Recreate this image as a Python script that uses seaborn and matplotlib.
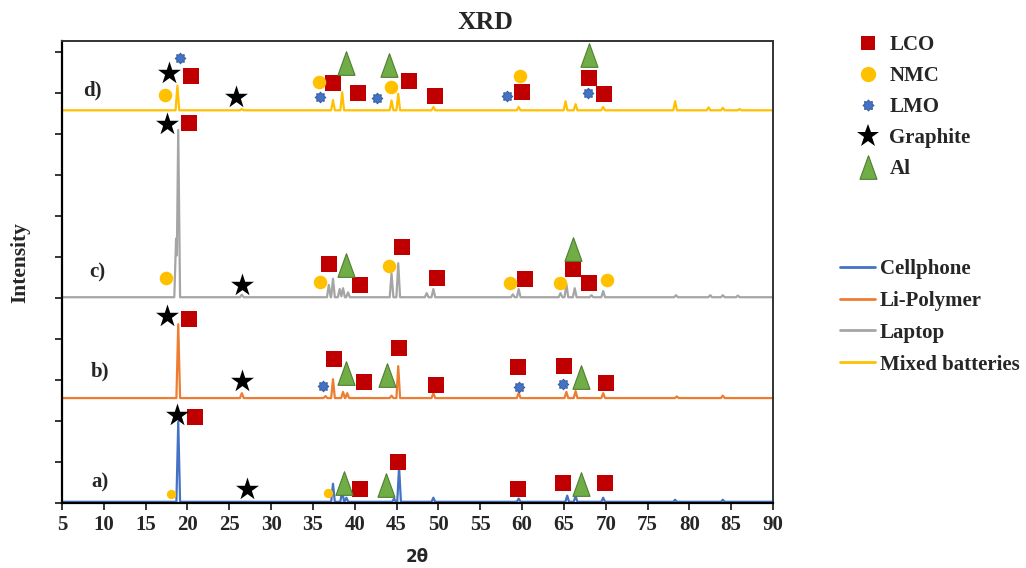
import numpy as np
import pandas as pd
import matplotlib.pyplot as plt
import seaborn as sns
from matplotlib.path import Path
from matplotlib.lines import Line2D

# ---- data ---------------------------------------------------------------
samples = ["Cellphone", "Li-Polymer", "Laptop", "Mixed batteries"]
sample_tags = ["a)", "b)", "c)", "d)"]
offsets = [0.03, 2.56, 5.02, 9.58]

# peak positions (2theta) and heights above each baseline
cell_pos = [18.9, 37.4, 38.5, 39.0, 44.7, 45.3, 49.4, 59.6, 65.4, 66.4, 69.7, 78.3, 84.0]
cell_h = [1.95, 0.44, 0.28, 0.10, 0.08, 0.85, 0.10, 0.08, 0.15, 0.14, 0.10, 0.05, 0.05]

lipo_pos = [18.9, 26.5, 36.5, 37.4, 38.6, 39.1, 44.4, 45.2, 49.4, 59.6, 65.3, 66.4, 69.7, 78.5, 84.0]
lipo_h = [1.80, 0.12, 0.05, 0.46, 0.15, 0.12, 0.06, 0.78, 0.12, 0.13, 0.15, 0.17, 0.12, 0.04, 0.06]

lap_pos = [18.65, 18.9, 26.5, 36.9, 37.4, 38.2, 38.6, 39.2, 44.4, 45.2, 48.6, 49.4, 58.9, 59.6,
           64.6, 65.3, 66.3, 68.3, 69.7, 78.4, 82.5, 84.0, 85.8]
lap_h = [1.50, 4.08, 0.06, 0.30, 0.45, 0.20, 0.22, 0.12, 0.58, 0.83, 0.10, 0.20, 0.07, 0.20,
         0.10, 0.32, 0.22, 0.05, 0.15, 0.05, 0.05, 0.05, 0.04]

mix_pos = [18.8, 26.5, 37.4, 38.5, 44.4, 45.2, 49.4, 59.6, 65.2, 66.4, 69.7, 78.3, 82.3, 84.0, 86.0]
mix_h = [0.60, 0.03, 0.25, 0.44, 0.24, 0.40, 0.08, 0.08, 0.22, 0.15, 0.08, 0.22, 0.07, 0.06, 0.03]

# phase markers (2theta, stacked intensity)
lco_x = [20.4, 37.4, 40.4, 46.5, 49.6, 60.0, 68.0, 69.8,
         20.2, 36.9, 40.6, 45.6, 49.8, 60.4, 66.1, 68.0,
         20.2, 37.5, 41.1, 45.3, 49.7, 59.5, 65.0, 70.0,
         20.9, 40.6, 45.2, 59.5, 64.9, 69.9]
lco_y = [10.41, 10.24, 10.00, 10.29, 9.93, 10.02, 10.37, 9.97,
         9.27, 5.83, 5.32, 6.25, 5.49, 5.46, 5.70, 5.37,
         4.49, 3.51, 2.95, 3.78, 2.88, 3.32, 3.34, 2.93,
         2.10, 0.34, 1.00, 0.34, 0.49, 0.49]

nmc_x = [17.3, 35.7, 44.3, 59.8, 17.4, 35.8, 44.1, 58.6, 64.5, 70.1]
nmc_y = [9.95, 10.27, 10.14, 10.41, 5.50, 5.40, 5.78, 5.37, 5.37, 5.44]
nmc_small_x = [18.0, 36.8]
nmc_small_y = [0.22, 0.25]

lmo_x = [19.1, 35.9, 42.7, 58.2, 67.9, 36.2, 59.6, 64.9]
lmo_y = [10.85, 9.90, 9.87, 9.93, 10.00, 2.85, 2.83, 2.90]

gra_x = [17.8, 25.8, 17.5, 26.5, 17.5, 26.5, 18.7, 27.1]
gra_y = [10.49, 9.90, 9.24, 5.32, 4.56, 2.98, 2.15, 0.34]

al_x = [38.9, 44.1, 68.0, 38.9, 66.1, 39.0, 43.9, 67.1, 38.7, 43.7, 67.0]
al_y = [10.73, 10.68, 10.93, 5.80, 6.20, 3.17, 3.12, 3.07, 0.49, 0.44, 0.46]

tag_x = [9.5, 9.5, 9.2, 8.6]
tag_y = [0.51, 3.22, 5.63, 10.07]

# ---- build the traces ----------------------------------------------------
tt = np.arange(5, 90.001, 0.02)
peak_lists = [(cell_pos, cell_h), (lipo_pos, lipo_h), (lap_pos, lap_h), (mix_pos, mix_h)]
frames = []
for name, off, (pos, hts) in zip(samples, offsets, peak_lists):
    y = np.zeros_like(tt)
    for p, h in zip(pos, hts):
        y = np.maximum(y, h * np.clip(1 - np.abs(tt - p) / 0.22, 0, None))
    frames.append(pd.DataFrame({"two_theta": tt, "intensity": y + off, "sample": name}))
df = pd.concat(frames, ignore_index=True)

line_colors = {"Cellphone": "#4472C4", "Li-Polymer": "#ED7D31",
               "Laptop": "#A5A5A5", "Mixed batteries": "#FFC000"}

sns.set_style("ticks")
plt.rcParams["font.family"] = ["Liberation Serif", "DejaVu Serif"]
plt.rcParams["font.weight"] = "bold"

fig = plt.figure(figsize=(10.26, 5.68), dpi=100)
ax = fig.add_axes([0.0604, 0.1144, 0.693, 0.8134])

sns.lineplot(data=df, x="two_theta", y="intensity", hue="sample", palette=line_colors,
             estimator=None, linewidth=1.6, legend=False, ax=ax)

gear = Path.unit_regular_star(8, 0.72)
tri = Path([(-0.36, -0.5), (0.36, -0.5), (0.0, 0.5), (-0.36, -0.5)],
           [Path.MOVETO, Path.LINETO, Path.LINETO, Path.CLOSEPOLY])

ax.scatter(lco_x, lco_y, marker="s", s=120, color="#C00000", linewidths=0, zorder=3)
ax.scatter(nmc_x, nmc_y, marker="o", s=95, color="#FFC000", linewidths=0, zorder=3)
ax.scatter(nmc_small_x, nmc_small_y, marker="o", s=45, color="#FFC000", linewidths=0, zorder=3)
ax.scatter(lmo_x, lmo_y, marker=gear, s=60, color="#4472C4", edgecolors="#2F5597",
           linewidths=0.6, zorder=3)
ax.scatter(gra_x, gra_y, marker="*", s=300, color="black", linewidths=0, zorder=3)
ax.scatter(al_x, al_y, marker=tri, s=290, color="#70AD47", edgecolors="#507E32",
           linewidths=0.8, zorder=3)

for t, x, y in zip(sample_tags, tag_x, tag_y):
    ax.text(x, y, t, fontsize=15, fontweight="bold", ha="center", va="center")

ax.set_xlim(5, 90)
ax.set_ylim(0, 11.27)
ax.set_xticks(np.arange(5, 91, 5))
ax.set_yticks(np.arange(0, 12, 1))
ax.set_yticklabels([])
ax.tick_params(axis="both", direction="out", length=5, width=1.3, labelsize=15)
for lab in ax.get_xticklabels():
    lab.set_fontweight("bold")
for side in ["left", "bottom"]:
    ax.spines[side].set_linewidth(1.6)
    ax.spines[side].set_color("black")
for side in ["top", "right"]:
    ax.spines[side].set_linewidth(1.4)
    ax.spines[side].set_color("#333333")

ax.set_ylabel("Intensity", fontsize=15.5, fontweight="bold")
ax.yaxis.set_label_coords(-0.045, 0.52)
ax.set_xlabel("2θ", fontsize=12, fontweight="bold", family=["DejaVu Sans"])
ax.xaxis.set_label_coords(0.5, -0.097)

fig.text(0.473, 0.96, "XRD", ha="center", va="center", fontsize=18.5, fontweight="bold")

# phase legend
phase_handles = [
    Line2D([], [], linestyle="", marker="s", markersize=10, color="#C00000", mew=0),
    Line2D([], [], linestyle="", marker="o", markersize=11, color="#FFC000", mew=0),
    Line2D([], [], linestyle="", marker=gear, markersize=8, color="#4472C4", mec="#2F5597", mew=0.6),
    Line2D([], [], linestyle="", marker="*", markersize=17, color="black", mew=0),
    Line2D([], [], linestyle="", marker=tri, markersize=17, color="#70AD47", mec="#507E32", mew=0.8),
]
leg1 = fig.legend(phase_handles, ["LCO", "NMC", "LMO", "Graphite", "Al"], loc="upper left",
                  bbox_to_anchor=(855 / 1026, 1 - 35 / 568), frameon=False, borderpad=0,
                  borderaxespad=0, handlelength=1.2, handletextpad=0.45, labelspacing=0.53,
                  prop={"size": 15, "weight": "bold"})

line_handles = [Line2D([], [], color=line_colors[s], linewidth=2) for s in samples]
leg2 = fig.legend(line_handles, samples, loc="upper left",
                  bbox_to_anchor=(840 / 1026, 1 - 259 / 568), frameon=False, borderpad=0,
                  borderaxespad=0, handlelength=1.68, handletextpad=0.24, labelspacing=0.57,
                  prop={"size": 15, "weight": "bold"})

fig.savefig("out.png", dpi=100)
